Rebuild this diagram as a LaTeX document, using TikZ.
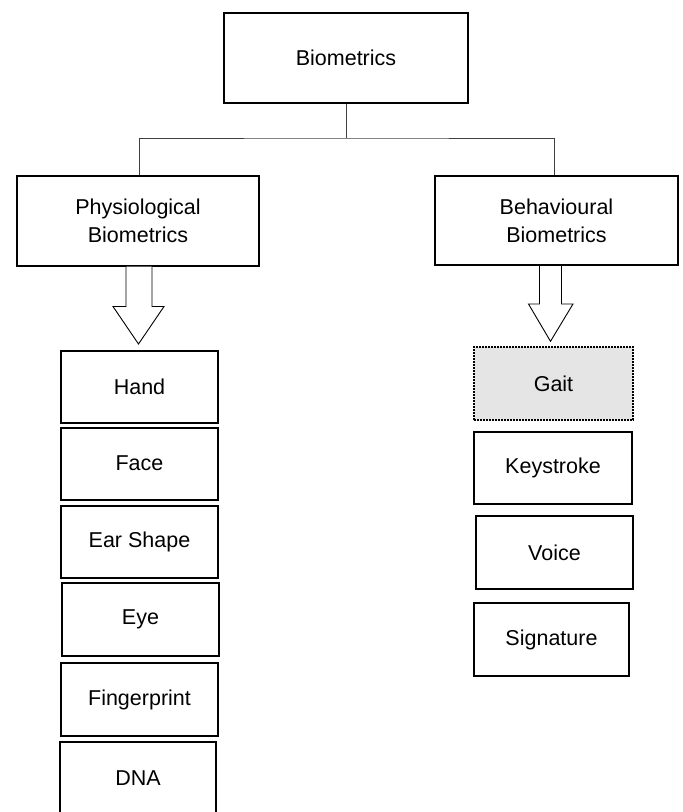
\documentclass[tikz,border=0pt]{standalone}
\usepackage{fontspec}
\setmainfont{Liberation Sans}
\begin{document}
\begin{tikzpicture}[x=1pt,y=-1pt,
  box/.style={draw=black,line width=2pt,inner sep=0pt,align=center,
    font=\fontsize{21.5}{28}\selectfont},
  catbox/.style={box,minimum width=242pt,minimum height=90pt},
  itembox/.style={box,minimum width=157pt,minimum height=72pt},
  gaitbox/.style={itembox,line width=1.4pt,fill=black!10,
    dash pattern=on 2pt off 1pt},
  link/.style={draw=black!75,line width=1pt},
  blockarrow/.style={draw=black,line width=0.9pt,fill=white,line join=miter}]
\useasboundingbox (0,0) rectangle (683,812);

% top level
\node[catbox,minimum width=244pt] (bio) at (346,58) {Biometrics};

% categories
\node[catbox] (phys) at (138,220.5) {Physiological\\Biometrics};
\node[catbox,minimum width=243pt,minimum height=89pt] (beh) at (556.5,220.5) {Behavioural\\Biometrics};

% tree connectors
\coordinate (split) at (346,138);
\draw[link] (bio.south) -- (split);
\draw[link] ([xshift=1pt]phys.north) |- (split) -| ([xshift=-2.5pt]beh.north);

% physiological traits
\node[itembox] (hand)   at (139.5,387)   {Hand};
\node[itembox] (face)   at (139.5,463.5) {Face};
\node[itembox] (ear)    at (139.5,542)   {Ear Shape};
\node[itembox,minimum height=73pt] (eye)    at (140.5,619.5) {Eye};
\node[itembox,minimum height=73pt] (finger) at (139.5,699.5) {Fingerprint};
\node[itembox,minimum width=156pt,minimum height=72pt] (dna) at (138,778) {DNA};

% behavioural traits
\node[gaitbox,minimum width=159pt,minimum height=73pt] (gait) at (553.5,383.5) {Gait};
\node[itembox,minimum width=158pt] (key)   at (553,468)     {Keystroke};
\node[itembox,minimum height=73pt] (voice) at (554.5,552.5) {Voice};
\node[itembox,minimum width=155pt,minimum height=73pt] (sig) at (551.5,639.5) {Signature};

% hollow block arrows from each category to its list
\coordinate (pa) at ([xshift=1pt]phys.south);
\coordinate (ba) at ([xshift=-6pt]beh.south);
\draw[blockarrow] ([xshift=-13pt]pa) -- ++(0,40) -- ++(-13,0)
  -- ([xshift=-1pt,yshift=6pt]hand.north) -- ([xshift=25pt,yshift=-40pt]pa)
  -- ++(-12,0) -- ([xshift=13pt]pa);
\draw[blockarrow] ([xshift=-11pt]ba) -- ++(0,38) -- ++(-11,0)
  -- ([xshift=-3pt,yshift=5pt]gait.north) -- ([xshift=22.5pt,yshift=-38pt]ba)
  -- ++(-11.5,0) -- ([xshift=11pt]ba);
\end{tikzpicture}
\end{document}
